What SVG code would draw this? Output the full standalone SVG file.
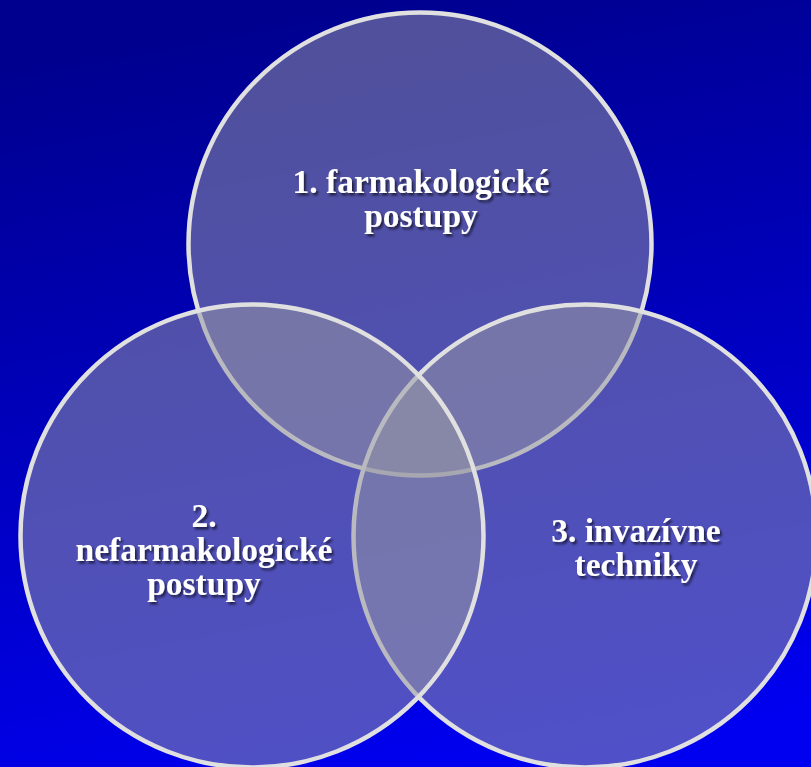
<svg xmlns="http://www.w3.org/2000/svg" width="811" height="767" viewBox="0 0 811 767">
  <defs>
    <linearGradient id="bg" x1="0.4" y1="0" x2="0.6" y2="1">
      <stop offset="0" stop-color="#00008E"/>
      <stop offset="1" stop-color="#0000F0"/>
    </linearGradient>
    <filter id="shadow" x="-10%" y="-20%" width="130%" height="160%">
      <feDropShadow dx="2" dy="2.5" stdDeviation="1" flood-color="#000000" flood-opacity="0.6"/>
    </filter>
    <style>
      .circle { fill: rgb(152,152,164); fill-opacity: 0.53; stroke: #E0E0E0; stroke-width: 4.5; }
      .label { font-family: "Liberation Serif", "Times New Roman", serif; font-weight: bold; font-size: 33.5px; fill: #FFFFFF; text-anchor: middle; filter: url(#shadow); }
    </style>
  </defs>
  <rect x="0" y="0" width="811" height="767" fill="url(#bg)"/>
  <g id="node-farmakologicke">
    <circle class="circle" cx="420" cy="244" r="231.5"/>
  </g>
  <g id="node-invazivne">
    <circle class="circle" cx="585" cy="536" r="231.5"/>
  </g>
  <g id="node-nefarmakologicke">
    <circle class="circle" cx="252" cy="536" r="231.5"/>
  </g>
  <g id="labels">
    <text class="label" x="421" y="193">1. farmakologické</text>
    <text class="label" x="421" y="226.5">postupy</text>
    <text class="label" x="204" y="527">2.</text>
    <text class="label" x="204" y="561">nefarmakologické</text>
    <text class="label" x="204" y="595">postupy</text>
    <text class="label" x="636" y="542">3. invazívne</text>
    <text class="label" x="636" y="576">techniky</text>
  </g>
  <g id="connectors"></g>
</svg>
